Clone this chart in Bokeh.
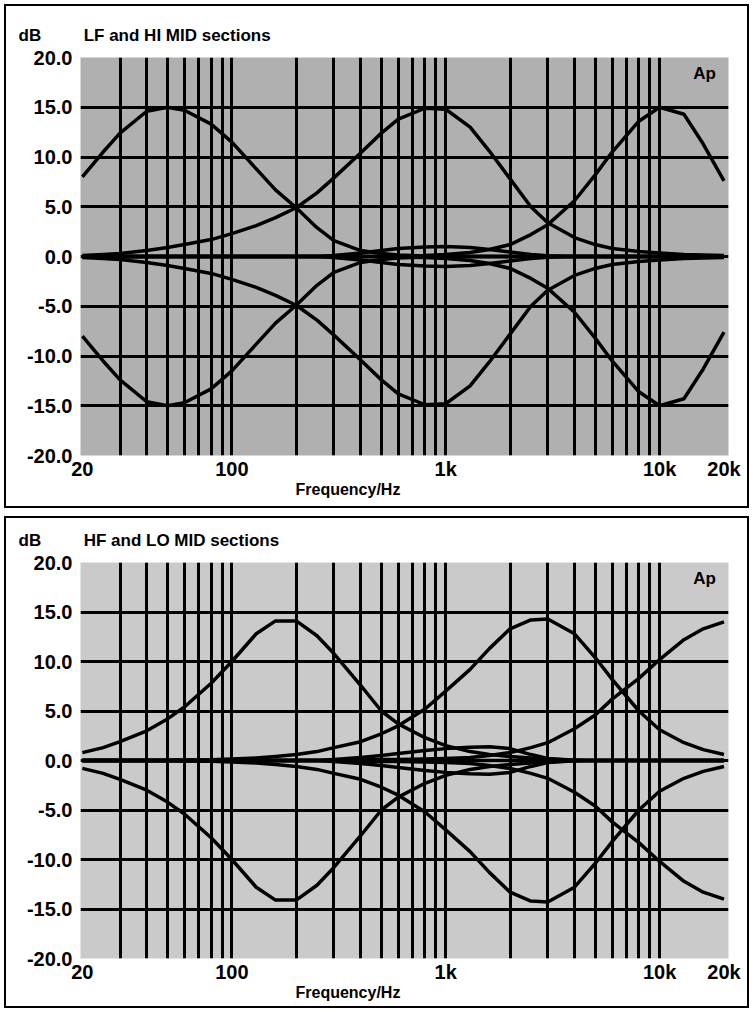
from bokeh.plotting import figure
from bokeh.models import (Range1d, FixedTicker, NumeralTickFormatter, Label,
                          CustomJSTickFormatter, Title)
from bokeh.layouts import column
from bokeh.embed import file_html
from bokeh.resources import INLINE

# ---------------- data ----------------
freqs = [20, 25, 30, 40, 50, 60, 80, 100, 130, 160, 200, 250, 300, 400, 500, 600,
         800, 1000, 1300, 1600, 2000, 2500, 3000, 4000, 5000, 6000, 8000, 10000,
         13000, 16000, 20000]

x_label_ticks = [20, 100, 1000, 10000, 20000]
x_grid_ticks = [30, 40, 50, 60, 70, 80, 90, 100, 200, 300, 400, 500, 600, 700, 800, 900,
                1000, 2000, 3000, 4000, 5000, 6000, 7000, 8000, 9000, 10000]
y_label_ticks = [-20, -15, -10, -5, 0, 5, 10, 15, 20]
y_grid_ticks = [-15, -10, -5, 0, 5, 10, 15]

flat = [0.0] * 31

# top panel: LF and HI MID sections
top_lf_boost = [8.0, 10.5, 12.4, 14.6, 15.0, 14.7, 13.3, 11.5, 8.8, 6.7, 4.9, 2.9, 1.6, 0.6, 0.3, 0.15,
                0.05, 0.0, 0.0, 0.0, 0.0, 0.0, 0.0, 0.0, 0.0, 0.0, 0.0, 0.0, 0.0, 0.0, 0.0]
top_lf_cut = [-8.0, -10.5, -12.4, -14.6, -15.0, -14.7, -13.3, -11.5, -8.8, -6.7, -4.9, -2.9, -1.6, -0.6, -0.3, -0.15,
              -0.05, 0.0, 0.0, 0.0, 0.0, 0.0, 0.0, 0.0, 0.0, 0.0, 0.0, 0.0, 0.0, 0.0, 0.0]
top_mid_boost = [0.1, 0.2, 0.3, 0.6, 0.9, 1.2, 1.7, 2.3, 3.1, 3.9, 4.9, 6.4, 7.9, 10.4, 12.4, 13.8,
                 14.9, 14.8, 13.0, 10.6, 7.8, 5.0, 3.4, 1.9, 1.2, 0.8, 0.5, 0.35, 0.2, 0.15, 0.1]
top_mid_cut = [-0.1, -0.2, -0.3, -0.6, -0.9, -1.2, -1.7, -2.3, -3.1, -3.9, -4.9, -6.4, -7.9, -10.4, -12.4, -13.8,
               -14.9, -14.8, -13.0, -10.6, -7.8, -5.0, -3.4, -1.9, -1.2, -0.8, -0.5, -0.35, -0.2, -0.15, -0.1]
top_hf_boost = [0.0, 0.0, 0.0, 0.0, 0.0, 0.0, 0.0, 0.0, 0.0, 0.0, 0.0, 0.0, 0.0, 0.0, 0.0, 0.05,
                0.1, 0.2, 0.4, 0.7, 1.2, 2.2, 3.2, 5.6, 8.2, 10.5, 13.6, 15.0, 14.3, 11.3, 7.6]
top_hf_cut = [0.0, 0.0, 0.0, 0.0, 0.0, 0.0, 0.0, 0.0, 0.0, 0.0, 0.0, 0.0, 0.0, 0.0, 0.0, -0.05,
              -0.1, -0.2, -0.4, -0.7, -1.2, -2.2, -3.2, -5.6, -8.2, -10.5, -13.6, -15.0, -14.3, -11.3, -7.6]
top_bump_up = [0.0, 0.0, 0.0, 0.0, 0.0, 0.0, 0.0, 0.0, 0.0, 0.0, 0.0, 0.0, 0.1, 0.35, 0.6, 0.8,
               0.95, 1.0, 0.9, 0.7, 0.45, 0.2, 0.08, 0.0, 0.0, 0.0, 0.0, 0.0, 0.0, 0.0, 0.0]
top_bump_dn = [0.0, 0.0, 0.0, 0.0, 0.0, 0.0, 0.0, 0.0, 0.0, 0.0, 0.0, 0.0, -0.1, -0.35, -0.6, -0.8,
               -0.95, -1.0, -0.9, -0.7, -0.45, -0.2, -0.08, 0.0, 0.0, 0.0, 0.0, 0.0, 0.0, 0.0, 0.0]

# bottom panel: HF and LO MID sections
bot_lomid_boost = [0.8, 1.3, 1.9, 3.0, 4.2, 5.4, 7.8, 10.0, 12.8, 14.1, 14.1, 12.6, 10.8, 7.6, 5.0, 3.7,
                   2.3, 1.5, 0.9, 0.6, 0.4, 0.25, 0.15, 0.05, 0.0, 0.0, 0.0, 0.0, 0.0, 0.0, 0.0]
bot_lomid_cut = [-0.8, -1.3, -1.9, -3.0, -4.2, -5.4, -7.8, -10.0, -12.8, -14.1, -14.1, -12.6, -10.8, -7.6, -5.0, -3.7,
                 -2.3, -1.5, -0.9, -0.6, -0.4, -0.25, -0.15, -0.05, 0.0, 0.0, 0.0, 0.0, 0.0, 0.0, 0.0]
bot_mid_boost = [0.0, 0.0, 0.0, 0.0, 0.03, 0.05, 0.08, 0.15, 0.25, 0.4, 0.6, 0.9, 1.3, 1.9, 2.7, 3.5,
                 5.2, 7.0, 9.2, 11.3, 13.3, 14.2, 14.3, 12.8, 10.4, 8.2, 5.0, 3.1, 1.8, 1.1, 0.6]
bot_mid_cut = [0.0, 0.0, 0.0, 0.0, -0.03, -0.05, -0.08, -0.15, -0.25, -0.4, -0.6, -0.9, -1.3, -1.9, -2.7, -3.5,
               -5.2, -7.0, -9.2, -11.3, -13.3, -14.2, -14.3, -12.8, -10.4, -8.2, -5.0, -3.1, -1.8, -1.1, -0.6]
bot_hf_boost = [0.0, 0.0, 0.0, 0.0, 0.0, 0.0, 0.0, 0.0, 0.0, 0.0, 0.0, 0.0, 0.0, 0.05, 0.1, 0.1,
                0.15, 0.2, 0.3, 0.5, 0.8, 1.3, 1.8, 3.2, 4.6, 6.2, 8.3, 10.2, 12.2, 13.3, 14.0]
bot_hf_cut = [0.0, 0.0, 0.0, 0.0, 0.0, 0.0, 0.0, 0.0, 0.0, 0.0, 0.0, 0.0, 0.0, -0.05, -0.1, -0.1,
              -0.15, -0.2, -0.3, -0.5, -0.8, -1.3, -1.8, -3.2, -4.6, -6.2, -8.3, -10.2, -12.2, -13.3, -14.0]
bot_bump_up = [0.0, 0.0, 0.0, 0.0, 0.0, 0.0, 0.0, 0.0, 0.0, 0.0, 0.0, 0.0, 0.1, 0.3, 0.5, 0.7,
               1.0, 1.2, 1.35, 1.4, 1.2, 0.6, 0.2, 0.0, 0.0, 0.0, 0.0, 0.0, 0.0, 0.0, 0.0]
bot_bump_dn = [0.0, 0.0, 0.0, 0.0, 0.0, 0.0, 0.0, 0.0, 0.0, 0.0, 0.0, 0.0, -0.1, -0.3, -0.5, -0.7,
               -1.0, -1.2, -1.35, -1.4, -1.2, -0.6, -0.2, 0.0, 0.0, 0.0, 0.0, 0.0, 0.0, 0.0, 0.0]

top_curves = [flat, top_lf_boost, top_lf_cut, top_mid_boost, top_mid_cut,
              top_hf_boost, top_hf_cut, top_bump_up, top_bump_dn]
bot_curves = [flat, bot_lomid_boost, bot_lomid_cut, bot_mid_boost, bot_mid_cut,
              bot_hf_boost, bot_hf_cut, bot_bump_up, bot_bump_dn]

FONT = "Liberation Sans"
NBSP = "\u00a0"


def make_panel(title_text, curves, height, mb_top, mb_bottom, bg):
    p = figure(width=753, height=height, x_axis_type="log",
               x_range=Range1d(19.6, 21000), y_range=Range1d(-20, 20),
               output_backend="svg", toolbar_location=None,
               min_border_left=80, min_border_right=25,
               min_border_top=mb_top, min_border_bottom=mb_bottom)
    frame_h = height - mb_top - mb_bottom
    p.background_fill_color = bg
    p.border_fill_color = "white"
    p.border_fill_alpha = 0.0
    p.outline_line_color = None

    # title row: "dB" at the far left, section name above the frame's left edge
    p.title.text = "dB" + NBSP * 9 + title_text
    p.title.align = "left"
    p.title.offset = -62
    p.title.standoff = 25
    p.title.text_font = FONT
    p.title.text_font_style = "bold"
    p.title.text_font_size = "17px"
    p.title.text_color = "black"

    p.xaxis.ticker = FixedTicker(ticks=x_label_ticks)
    p.xaxis.formatter = CustomJSTickFormatter(
        code="return tick >= 1000 ? (tick / 1000) + 'k' : String(tick);")
    p.yaxis.ticker = FixedTicker(ticks=y_label_ticks)
    p.yaxis.formatter = NumeralTickFormatter(format="0.0")
    for ax in (p.xaxis, p.yaxis):
        ax.axis_line_color = None
        ax.major_tick_line_color = None
        ax.minor_tick_line_color = None
        ax.major_tick_in = 0
        ax.major_tick_out = 0
        ax.minor_tick_in = 0
        ax.minor_tick_out = 0
        ax.major_label_text_font = FONT
        ax.major_label_text_font_style = "bold"
        ax.major_label_text_font_size = "20px"
        ax.major_label_text_color = "black"
    p.xaxis.major_label_standoff = 2
    p.yaxis.major_label_standoff = 8

    p.add_layout(Title(text="Frequency/Hz", align="left", offset=215, standoff=-8,
                       text_font=FONT, text_font_style="bold", text_font_size="16px",
                       text_color="black"), "below")

    p.xgrid.ticker = FixedTicker(ticks=x_grid_ticks)
    p.ygrid.ticker = FixedTicker(ticks=y_grid_ticks)
    for g in (p.xgrid, p.ygrid):
        g.grid_line_color = "black"
        g.grid_line_width = 3
        g.grid_line_alpha = 1.0

    for c in curves:
        p.line(freqs, c, line_color="black", line_width=3.5, line_join="round")

    p.add_layout(Label(x=624, y=frame_h - 16, x_units="screen", y_units="screen",
                       text="Ap", text_align="center", text_baseline="middle",
                       text_font=FONT, text_font_style="bold", text_font_size="17px",
                       text_color="black"))

    p.styles = {"outline": "2px solid black", "outline-offset": "-6px",
                "background-color": "white"}
    return p


p1 = make_panel("LF and HI MID sections", top_curves, 512, 57, 57, "#b0b0b0")
p2 = make_panel("HF and LO MID sections", bot_curves, 500, 50, 54, "#cacaca")

layout = column(p1, p2, spacing=0)
open("out.html", "w").write(file_html(layout, INLINE))
